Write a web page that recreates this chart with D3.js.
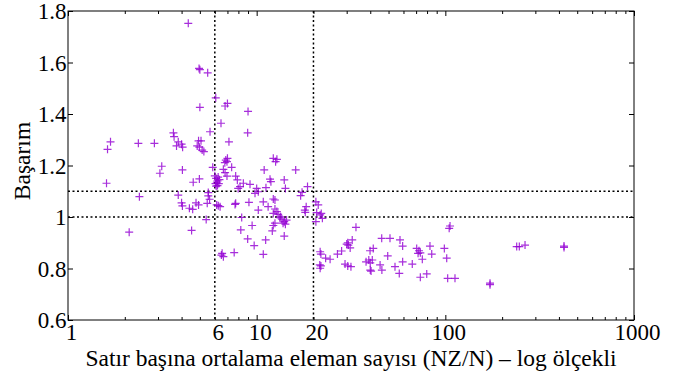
<!DOCTYPE html>
<html>
<head>
<meta charset="utf-8">
<script src="https://cdn.jsdelivr.net/npm/d3@7"></script>
<style>
  html, body { margin: 0; padding: 0; background: #fff; }
  svg { display: block; }
</style>
</head>
<body>
<svg id="chart" width="675" height="377"></svg>
<script>
// NZ/N (average non-zeros per row) for each matrix
const ratio = [
  1.60, 1.62, 1.68, 2.11, 2.36, 2.39, 2.87, 3.07, 3.14, 3.62,
  3.65, 3.76, 3.84, 4.00, 4.05, 3.84, 4.00, 4.04, 4.04, 4.34,
  4.40, 4.58, 4.52, 4.61, 4.77, 4.92, 4.92, 5.07, 4.84, 4.97,
  5.14, 5.25, 4.97, 4.95, 5.00, 5.50, 5.00, 5.66, 5.85, 5.54,
  5.54, 5.63, 5.47, 5.40, 6.07,
  6.14, 6.26, 6.40, 6.47, 6.80, 7.00, 9.00, 8.96, 7.13, 6.86,
  7.00, 6.78, 6.96, 6.66, 6.80, 7.37, 6.96, 7.74, 7.90, 8.50,
  9.22, 8.16, 7.98, 10.0, 10.2, 9.80, 11.2, 10.96, 11.77, 11.9,
  12.25, 12.8, 12.6, 14.0, 14.2, 16.1, 18.6, 17.1, 17.4, 18.0,
  18.3, 18.1, 7.74, 7.68, 9.10, 10.84, 11.5, 12.5, 12.25, 10.2,
  12.5, 12.8, 12.25, 13.0, 13.4, 13.6, 14.0, 14.2, 13.8, 12.5,
  12.25, 13.25, 14.4, 8.33, 9.46, 8.24, 11.16, 12.1, 14.0, 8.96,
  9.70, 7.60, 10.84, 6.56, 6.66, 6.50,
  6.00, 6.10, 6.20, 6.30, 6.10, 6.25, 6.15, 6.35, 6.05, 6.20,
  20.6, 21.2, 22.0, 20.8, 21.7, 20.6, 22.3, 21.7, 21.9, 21.6,
  21.9, 21.7, 23.2, 24.5, 26.8, 28.2, 30.4, 30.6, 30.0, 31.3,
  32.1, 33.6, 29.4, 30.4, 31.6, 39.9, 41.5, 38.0, 39.3, 41.0,
  40.0, 40.0, 40.4, 46.0, 50.9, 57.5, 59.4, 49.5, 45.1, 46.1,
  54.1, 57.0, 59.4, 66.8, 70.5, 72.5, 73.7, 71.7, 75.5, 82.9,
  84.7, 73.7, 79.7, 98.8, 101.7, 102.9, 112.5, 105.9, 104.8, 238.9,
  246.7, 264.5, 425.6, 425.6, 172.5, 172.5
];
// Speedup (Başarım) for each matrix
const speedup = [
  1.131, 1.263, 1.292, 0.941, 1.286, 1.079, 1.286, 1.170, 1.197, 1.327,
  1.312, 1.276, 1.292, 1.283, 1.271, 1.085, 1.055, 1.043, 1.183, 1.752,
  1.034, 1.030, 0.948, 1.135, 1.055, 1.047, 1.296, 1.296, 1.276, 1.271,
  1.260, 1.254, 1.148, 1.577, 1.572, 1.560, 1.426, 1.331, 1.193, 1.095,
  1.082, 1.069, 1.053, 0.990, 1.463,
  1.047, 1.044, 1.040, 1.364, 1.431, 1.441, 1.410, 1.327, 1.292, 1.221,
  1.228, 1.211, 1.215, 1.185, 1.172, 1.193, 1.159, 1.159, 1.144, 1.131,
  1.127, 1.118, 1.111, 1.111, 1.098, 1.092, 1.114, 1.183, 1.147, 1.137,
  1.228, 1.224, 1.215, 1.144, 1.111, 1.183, 1.118, 1.083, 1.096, 1.027,
  1.040, 1.018, 1.053, 1.049, 1.057, 1.059, 1.040, 1.066, 1.070, 1.027,
  1.031, 1.021, 1.014, 1.010, 1.001, 0.992, 0.982, 0.972, 0.976, 0.976,
  0.967, 0.997, 0.988, 0.998, 0.967, 0.950, 0.911, 0.946, 0.926, 0.915,
  0.889, 0.862, 0.855, 0.859, 0.846, 0.852,
  1.160, 1.150, 1.140, 1.130, 1.120, 1.155, 1.135, 1.145, 1.130, 1.122,
  1.059, 1.047, 1.014, 1.017, 1.008, 0.982, 0.995, 0.865, 0.856, 0.814,
  0.810, 0.801, 0.840, 0.836, 0.856, 0.868, 0.900, 0.891, 0.895, 0.880,
  0.911, 0.960, 0.817, 0.810, 0.807, 0.869, 0.878, 0.826, 0.833, 0.833,
  0.822, 0.794, 0.790, 0.917, 0.917, 0.911, 0.887, 0.849, 0.814, 0.794,
  0.807, 0.781, 0.826, 0.817, 0.878, 0.869, 0.861, 0.859, 0.836, 0.887,
  0.856, 0.766, 0.779, 0.878, 0.840, 0.762, 0.762, 0.965, 0.956, 0.885,
  0.885, 0.891, 0.887, 0.882, 0.743, 0.737
];

const xTickLabels = [1, 6, 10, 20, 100, 1000];
const xMajorTicks = [1, 10, 100, 1000];
const yTicks = [0.6, 0.8, 1.0, 1.2, 1.4, 1.6, 1.8];
const xRefLines = [6, 20];
const yRefLines = [1.0, 1.1];
const xTitle = "Satır başına ortalama eleman sayısı (NZ/N) – log ölçekli";
const yTitle = "Başarım";

const FONT = "'Liberation Serif', 'Times New Roman', 'DejaVu Serif', serif";
const L = 68, R = 634, T = 11, B = 320;
const svg = d3.select("#chart");
const x = d3.scaleLog().domain([1, 1000]).range([L, R]);
const y = d3.scaleLinear().domain([0.6, 1.8]).range([B, T]);

const xMinor = [];
for (let d = 1; d < 1000; d *= 10) for (let k = 2; k <= 9; k++) xMinor.push(d * k);

// reference dotted lines
const ref = svg.append("g").attr("stroke", "#000").attr("stroke-width", 1.5)
  .attr("stroke-dasharray", "2,2.5").attr("fill", "none");
ref.selectAll("line.v").data(xRefLines).join("line").attr("class", "v")
  .attr("x1", d => x(d)).attr("x2", d => x(d)).attr("y1", T).attr("y2", B);
ref.selectAll("line.h").data(yRefLines).join("line").attr("class", "h")
  .attr("x1", L).attr("x2", R).attr("y1", d => y(d)).attr("y2", d => y(d));

// points
const pts = ratio.map((r, i) => [r, speedup[i]]);
svg.append("g").selectAll("path").data(pts).join("path")
  .attr("transform", d => `translate(${x(d[0])},${y(d[1])})`)
  .attr("d", "M-4,0H4M0,-4V4")
  .attr("stroke", "#9400d3").attr("stroke-width", 1.2).attr("stroke-opacity", 0.82)
  .attr("fill", "none");

// tick marks (inward, all sides)
function ticks(axis, tr) {
  const g = svg.append("g").attr("transform", tr).call(axis);
  g.select(".domain").remove();
  g.selectAll("text").remove();
  g.selectAll("line").attr("stroke", "#000").attr("stroke-width", 1);
  return g;
}
ticks(d3.axisBottom(x).tickValues(xMajorTicks).tickSize(-5), `translate(0,${B})`);
ticks(d3.axisBottom(x).tickValues(xMinor).tickSize(-3), `translate(0,${B})`);
ticks(d3.axisTop(x).tickValues(xMajorTicks).tickSize(-5), `translate(0,${T})`);
ticks(d3.axisTop(x).tickValues(xMinor).tickSize(-3), `translate(0,${T})`);
ticks(d3.axisLeft(y).tickValues(yTicks).tickSize(-5), `translate(${L},0)`);
ticks(d3.axisRight(y).tickValues(yTicks).tickSize(-5), `translate(${R},0)`);

// frame
svg.append("rect").attr("x", L).attr("y", T).attr("width", R - L).attr("height", B - T)
  .attr("fill", "none").attr("stroke", "#000").attr("stroke-width", 1);

// tick labels
const gx = svg.append("g").attr("transform", `translate(0,${B})`)
  .call(d3.axisBottom(x).tickValues(xTickLabels).tickSize(0).tickFormat(d3.format("d")));
gx.attr("font-family", FONT).attr("font-size", 23);
gx.select(".domain").remove();
gx.selectAll("text").attr("y", 20).attr("dy", 0).attr("dx", 3)
  .attr("font-family", FONT).attr("font-size", 23).attr("fill", "#000");

const gy = svg.append("g").attr("transform", `translate(${L},0)`)
  .call(d3.axisLeft(y).tickValues(yTicks).tickSize(0)
    .tickFormat(d => d === 1 ? "1" : d3.format(".1f")(d)));
gy.attr("font-family", FONT).attr("font-size", 23);
gy.select(".domain").remove();
gy.selectAll("text").attr("x", -1.5).attr("dy", "0.34em")
  .attr("font-family", FONT).attr("font-size", 23).attr("fill", "#000");

// titles
svg.append("text").attr("x", (L + R) / 2).attr("y", 366).attr("text-anchor", "middle")
  .attr("font-family", FONT).attr("font-size", 23.5).attr("fill", "#000").text(xTitle);
svg.append("text").attr("transform", `translate(29.5,161) rotate(-90)`)
  .attr("text-anchor", "middle").attr("font-family", FONT).attr("font-size", 23.5)
  .attr("fill", "#000").text(yTitle);
</script>
</body>
</html>
